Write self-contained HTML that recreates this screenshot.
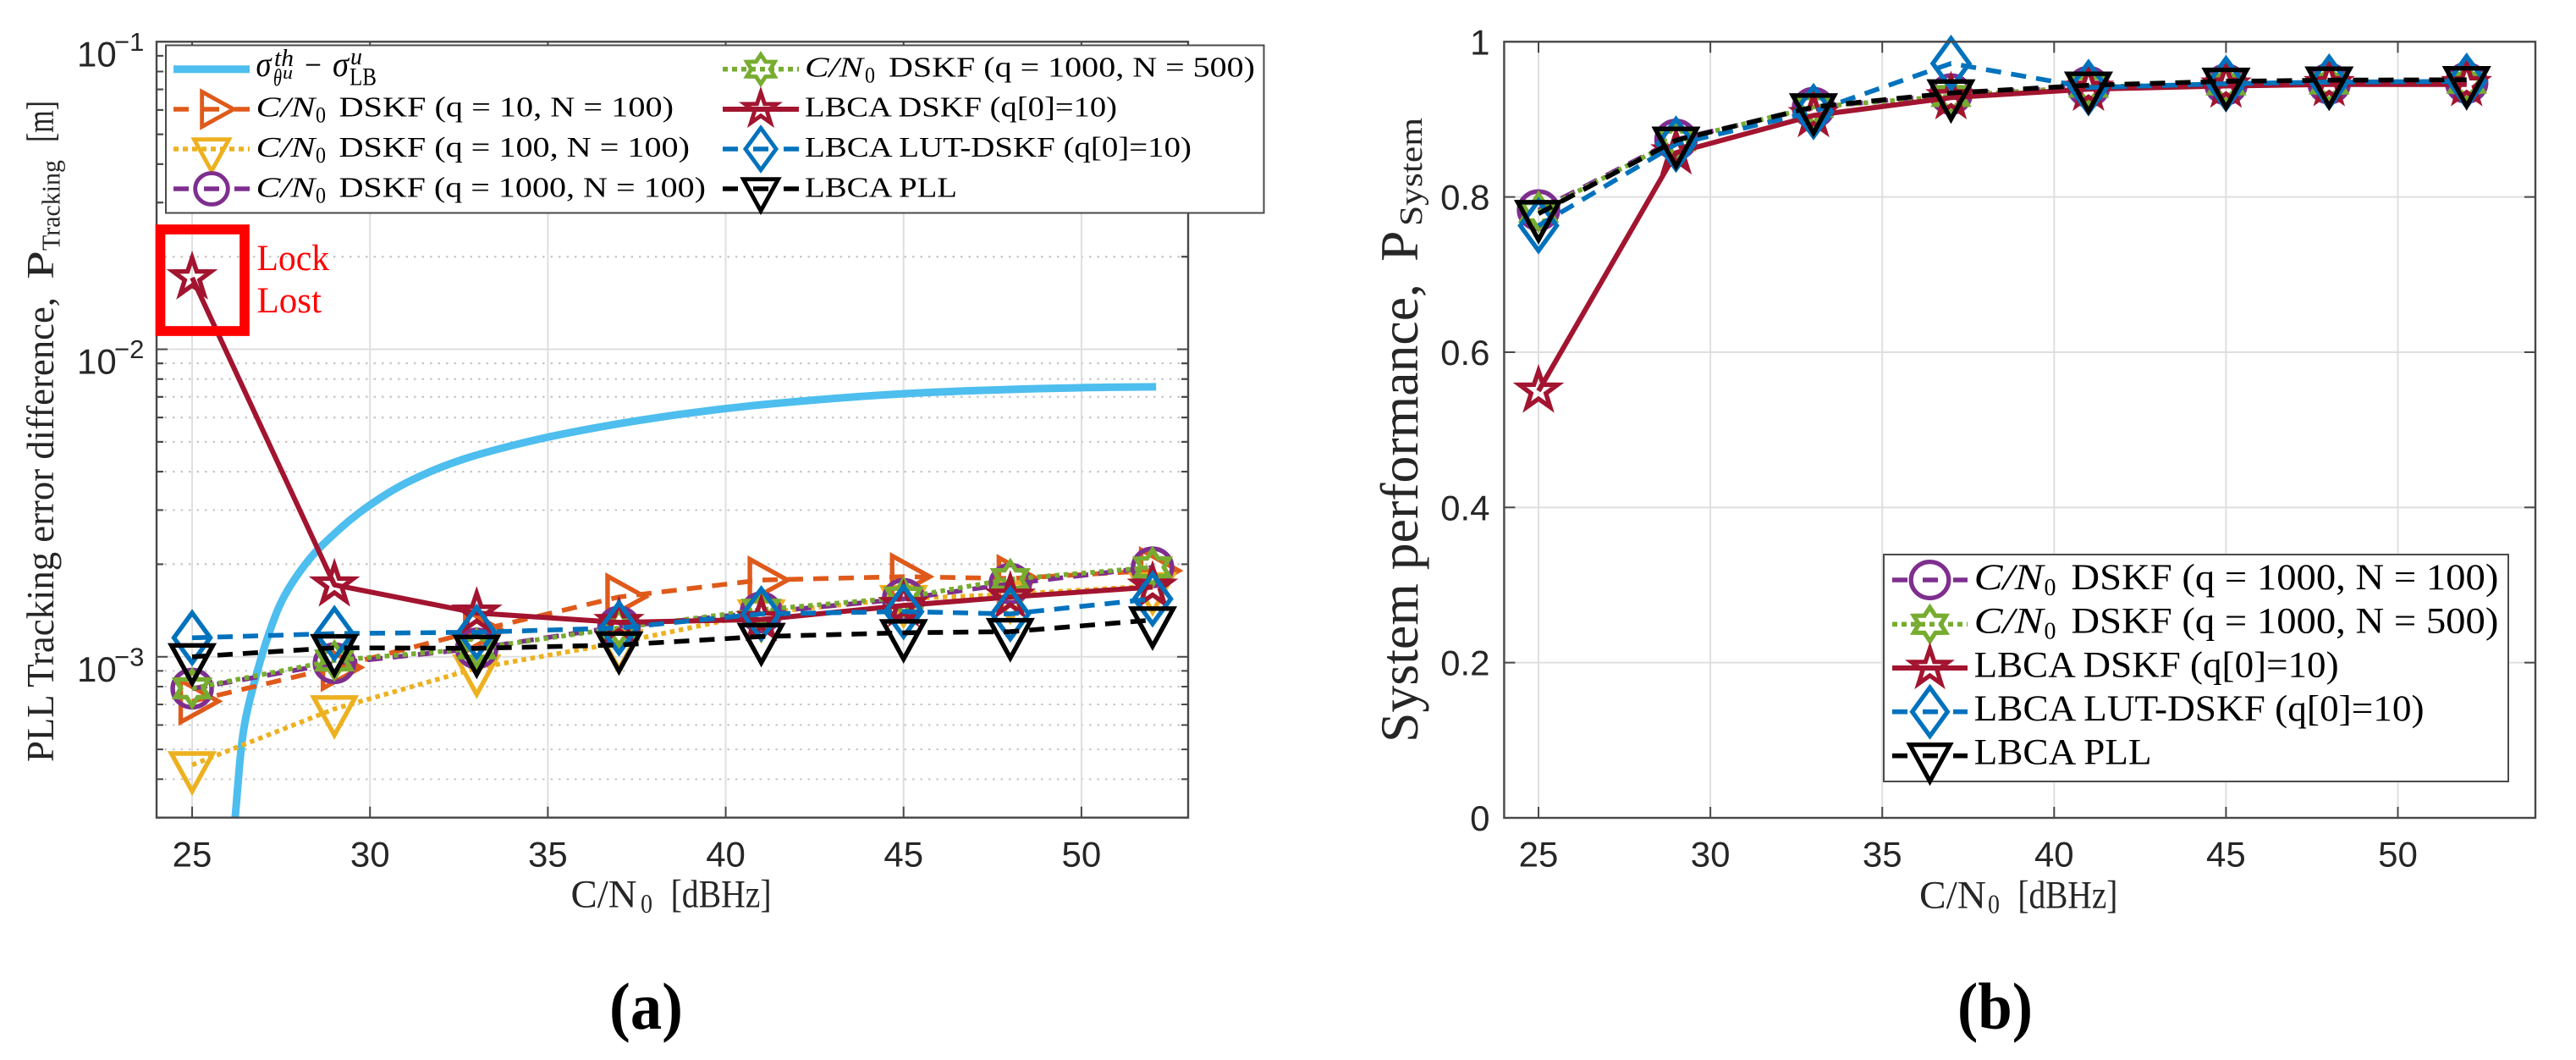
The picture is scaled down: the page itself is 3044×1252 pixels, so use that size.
<!DOCTYPE html>
<html lang="en">
<head>
<meta charset="utf-8">
<title>PLL tracking error difference and system performance vs C/N0</title>
<style>
html,body{margin:0;padding:0;background:#fff;width:3044px;height:1252px;overflow:hidden}
svg{display:block}
text{font-family:"Liberation Serif",serif;fill:#000}
.tick{font-family:"Liberation Sans",sans-serif;font-size:42px;fill:#262626}
.sup{font-family:"Liberation Sans",sans-serif;font-size:31px;fill:#262626}
.lab{fill:#262626}
</style>
</head>
<body>
<svg id="fig" xmlns="http://www.w3.org/2000/svg" width="3044" height="1252" viewBox="0 0 3044 1252">
  <rect x="0" y="0" width="3044" height="1252" fill="#fff"/>
  <g id="panelA"></g>
  <g id="panelB"></g>

  <g>
    <rect x="196" y="53.5" width="1297.5" height="198" fill="#fff" stroke="#4a4a4a" stroke-width="2"/>
  </g>
  <g id="legendA"></g>
  <g font-size="34">
    <g>
      <text x="302.5" y="90" font-size="42" font-style="italic" textLength="18" lengthAdjust="spacingAndGlyphs">σ</text>
      <text x="324" y="78" font-size="28" font-style="italic" textLength="23" lengthAdjust="spacingAndGlyphs">th</text>
      <text x="323" y="101" font-size="28" font-style="italic" textLength="10" lengthAdjust="spacingAndGlyphs">θ</text>
      <text x="334" y="93" font-size="22" font-style="italic" textLength="12" lengthAdjust="spacingAndGlyphs">u</text>
      <text x="360" y="90" font-size="40" textLength="20" lengthAdjust="spacingAndGlyphs">−</text>
      <text x="393" y="90" font-size="42" font-style="italic" textLength="19" lengthAdjust="spacingAndGlyphs">σ</text>
      <text x="414" y="76" font-size="28" font-style="italic" textLength="14" lengthAdjust="spacingAndGlyphs">u</text>
      <text x="413" y="100.7" font-size="30" textLength="32" lengthAdjust="spacingAndGlyphs">LB</text>
    </g>
    <g>
      <text x="302.5" y="137.3" font-style="italic" textLength="70" lengthAdjust="spacingAndGlyphs">C/N</text>
      <text x="373" y="144.3" font-size="26" textLength="12" lengthAdjust="spacingAndGlyphs">0</text>
      <text x="400.5" y="137.3" textLength="395.5" lengthAdjust="spacingAndGlyphs">DSKF (q = 10, N = 100)</text>
    </g>
    <g>
      <text x="302.5" y="185" font-style="italic" textLength="70" lengthAdjust="spacingAndGlyphs">C/N</text>
      <text x="373" y="192" font-size="26" textLength="12" lengthAdjust="spacingAndGlyphs">0</text>
      <text x="400.5" y="185" textLength="414.5" lengthAdjust="spacingAndGlyphs">DSKF (q = 100, N = 100)</text>
    </g>
    <g>
      <text x="302.5" y="232.3" font-style="italic" textLength="70" lengthAdjust="spacingAndGlyphs">C/N</text>
      <text x="373" y="239.3" font-size="26" textLength="12" lengthAdjust="spacingAndGlyphs">0</text>
      <text x="400.5" y="232.3" textLength="433.5" lengthAdjust="spacingAndGlyphs">DSKF (q = 1000, N = 100)</text>
    </g>
    <g>
      <text x="951" y="90.7" font-style="italic" textLength="69" lengthAdjust="spacingAndGlyphs">C/N</text>
      <text x="1022" y="97.7" font-size="26" textLength="12" lengthAdjust="spacingAndGlyphs">0</text>
      <text x="1050" y="90.7" textLength="433" lengthAdjust="spacingAndGlyphs">DSKF (q = 1000, N = 500)</text>
    </g>
    <text x="951" y="137.3" textLength="369" lengthAdjust="spacingAndGlyphs">LBCA DSKF (q[0]=10)</text>
    <text x="951" y="185" textLength="457" lengthAdjust="spacingAndGlyphs">LBCA LUT-DSKF (q[0]=10)</text>
    <text x="951" y="232.3" textLength="180" lengthAdjust="spacingAndGlyphs">LBCA PLL</text>
  </g>

  <g>
    <rect x="189.5" y="271" width="99.5" height="120" fill="none" stroke="#ff0000" stroke-width="11.7"/>
    <text x="303.5" y="319" font-size="43" style="fill:#ff0000" textLength="85.5" lengthAdjust="spacingAndGlyphs">Lock</text>
    <text x="303.5" y="369" font-size="43" style="fill:#ff0000" textLength="76.5" lengthAdjust="spacingAndGlyphs">Lost</text>
  </g>

  <g class="lab">
    <text class="lab" transform="translate(63,900) rotate(-90)" font-size="46" textLength="549" lengthAdjust="spacingAndGlyphs">PLL Tracking error difference,</text>
    <text class="lab" transform="translate(63,330) rotate(-90)" font-size="46" textLength="34" lengthAdjust="spacingAndGlyphs">P</text>
    <text class="lab" transform="translate(70.7,296) rotate(-90)" font-size="31" textLength="107" lengthAdjust="spacingAndGlyphs">Tracking</text>
    <text class="lab" transform="translate(63,168) rotate(-90)" font-size="46" textLength="49" lengthAdjust="spacingAndGlyphs">[m]</text>
  </g>
  <g>
    <text class="lab" x="674.5" y="1071.7" font-size="47" textLength="78" lengthAdjust="spacingAndGlyphs">C/N</text>
    <text class="lab" x="757" y="1078" font-size="32" textLength="14" lengthAdjust="spacingAndGlyphs">0</text>
    <text class="lab" x="792.6" y="1071.7" font-size="47" textLength="119" lengthAdjust="spacingAndGlyphs">[dBHz]</text>
  </g>
  <text x="720" y="1215" font-size="78" font-weight="bold" textLength="87" lengthAdjust="spacingAndGlyphs">(a)</text>

  <g>
    <rect x="2226" y="655" width="738" height="268" fill="#fff" stroke="#4a4a4a" stroke-width="2"/>
  </g>
  <g id="legendB"></g>
  <g font-size="43">
    <g>
      <text x="2332.6" y="696" font-style="italic" textLength="82" lengthAdjust="spacingAndGlyphs">C/N</text>
      <text x="2415.5" y="703" font-size="28" textLength="14" lengthAdjust="spacingAndGlyphs">0</text>
      <text x="2447.4" y="696" textLength="505" lengthAdjust="spacingAndGlyphs">DSKF (q = 1000, N = 100)</text>
    </g>
    <g>
      <text x="2332.6" y="747.3" font-style="italic" textLength="82" lengthAdjust="spacingAndGlyphs">C/N</text>
      <text x="2415.5" y="754.3" font-size="28" textLength="14" lengthAdjust="spacingAndGlyphs">0</text>
      <text x="2447.4" y="747.3" textLength="505" lengthAdjust="spacingAndGlyphs">DSKF (q = 1000, N = 500)</text>
    </g>
    <text x="2332.6" y="799.3" textLength="431" lengthAdjust="spacingAndGlyphs">LBCA DSKF (q[0]=10)</text>
    <text x="2332.6" y="851" textLength="532" lengthAdjust="spacingAndGlyphs">LBCA LUT-DSKF (q[0]=10)</text>
    <text x="2332.6" y="902.7" textLength="210" lengthAdjust="spacingAndGlyphs">LBCA PLL</text>
  </g>

  <g>
    <text class="lab" transform="translate(1675,877) rotate(-90)" font-size="63" textLength="542" lengthAdjust="spacingAndGlyphs">System performance,</text>
    <text class="lab" transform="translate(1675,309) rotate(-90)" font-size="63" textLength="36.5" lengthAdjust="spacingAndGlyphs">P</text>
    <text class="lab" transform="translate(1680,267) rotate(-90)" font-size="38" textLength="128" lengthAdjust="spacingAndGlyphs">System</text>
  </g>
  <g>
    <text class="lab" x="2268" y="1072.3" font-size="47" textLength="79" lengthAdjust="spacingAndGlyphs">C/N</text>
    <text class="lab" x="2349" y="1078.5" font-size="32" textLength="14" lengthAdjust="spacingAndGlyphs">0</text>
    <text class="lab" x="2384.4" y="1072.3" font-size="47" textLength="118" lengthAdjust="spacingAndGlyphs">[dBHz]</text>
  </g>
  <text x="2313" y="1215" font-size="78" font-weight="bold" textLength="89" lengthAdjust="spacingAndGlyphs">(b)</text>
</svg>

<script>
// ---- shared categories ----
const cn0 = [25, 29, 33, 37, 41, 45, 48, 52];
const xTicks = [25, 30, 35, 40, 45, 50];

// ---- panel (a) tracking error difference [m] ----
const theoryX = [26.21, 26.28, 26.36, 26.45, 26.57, 26.74, 26.93, 27.14, 27.47, 27.93, 28.43, 28.93, 29.43, 29.97, 30.66, 31.42, 32.21, 33.16, 35.05, 37.46, 40.04, 42.63, 45.09, 47.79, 50.13, 52.1];
const theoryY = [3.0e-4, 3.76e-4, 4.845e-4, 5.86e-4, 6.87e-4, 8.2e-4, 9.85e-4, 1.177e-3, 1.498e-3, 1.834e-3, 2.177e-3, 2.471e-3, 2.787e-3, 3.105e-3, 3.501e-3, 3.883e-3, 4.235e-3, 4.6e-3, 5.22e-3, 5.865e-3, 6.45e-3, 6.87e-3, 7.2e-3, 7.4e-3, 7.51e-3, 7.55e-3];
const aQ10N100 = [7.165e-4, 9.23e-4, 1.215e-3, 1.565e-3, 1.777e-3, 1.822e-3, 1.797e-3, 1.905e-3];
const aQ100N100 = [4.45e-4, 6.77e-4, 9.19e-4, 1.112e-3, 1.388e-3, 1.546e-3, 1.596e-3, 1.7e-3];
const aQ1000N100 = [7.88e-4, 9.53e-4, 1.065e-3, 1.254e-3, 1.394e-3, 1.543e-3, 1.729e-3, 1.954e-3];
const aQ1000N500 = [7.9e-4, 9.73e-4, 1.065e-3, 1.241e-3, 1.423e-3, 1.559e-3, 1.789e-3, 1.954e-3];
const aLbcaDskf = [1.709e-2, 1.714e-3, 1.388e-3, 1.294e-3, 1.322e-3, 1.469e-3, 1.565e-3, 1.686e-3];
const aLbcaLut = [1.153e-3, 1.19e-3, 1.202e-3, 1.241e-3, 1.379e-3, 1.403e-3, 1.379e-3, 1.543e-3];
const aLbcaPll = [1.0e-3, 1.07e-3, 1.0654e-3, 1.0927e-3, 1.164e-3, 1.197e-3, 1.207e-3, 1.317e-3];
const aYDecades = [-1, -2, -3];
const aYMinorMult = [2, 3, 4, 5, 6, 7, 8, 9];

// ---- panel (b) system performance ----
const bQ1000N100 = [0.783, 0.874, 0.915, 0.9325, 0.942, 0.945, 0.946, 0.947];
const bQ1000N500 = [0.781, 0.873, 0.916, 0.93, 0.942, 0.945, 0.946, 0.947];
const bLbcaDskf = [0.55, 0.857, 0.905, 0.928, 0.939, 0.943, 0.945, 0.945];
const bLbcaLut = [0.763, 0.868, 0.91, 0.972, 0.941, 0.946, 0.948, 0.949];
const bLbcaPll = [0.7785, 0.873, 0.916, 0.934, 0.944, 0.949, 0.9505, 0.951];
const bYTicks = [0, 0.2, 0.4, 0.6, 0.8, 1];
const bYLabels = ['0', '0.2', '0.4', '0.6', '0.8', '1'];

const NS = 'http://www.w3.org/2000/svg';
const COL = {cyan:'#4DBEEE', orange:'#DF5A1A', yellow:'#EDB120', purple:'#7E2F8E', green:'#77AC30', red:'#A2142F', blue:'#0072BD', black:'#000000'};
const AXIS = '#484848';

function mk(parent, tag, attrs, text) {
  const el = document.createElementNS(NS, tag);
  for (const k in attrs) el.setAttribute(k, attrs[k]);
  if (text !== undefined) el.textContent = text;
  parent.appendChild(el);
  return el;
}

// axis functions
const A = {l:185, r:1404, t:49.3, b:965.7, xmin:24, xmax:53, ymin:3e-4, ymax:0.1};
const B = {l:1777.4, r:2996, t:49.3, b:966, xmin:24, xmax:54, ymin:0, ymax:1};
const xA = v => A.l + (v - A.xmin) / (A.xmax - A.xmin) * (A.r - A.l);
const yA = v => A.t + (Math.log10(A.ymax) - Math.log10(v)) / (Math.log10(A.ymax) - Math.log10(A.ymin)) * (A.b - A.t);
const xB = v => B.l + (v - B.xmin) / (B.xmax - B.xmin) * (B.r - B.l);
const yB = v => B.t + (B.ymax - v) / (B.ymax - B.ymin) * (B.b - B.t);

function poly(pts) { return 'M' + pts.map(p => p[0].toFixed(2) + ' ' + p[1].toFixed(2)).join('L') + 'Z'; }

function markerEl(g, type, cx, cy, k, color) {
  let el;
  const base = {fill:'none', stroke:color, 'stroke-width':5.4 * Math.max(k, .9), 'stroke-miterlimit':12, 'stroke-linejoin':'miter'};
  if (type === 'circle') {
    el = mk(g, 'ellipse', Object.assign({cx:cx, cy:cy, rx:23 * k, ry:22 * k}, base));
  } else {
    let pts = [];
    if (type === 'tridown') pts = [[-24.5,-13.5],[24.5,-13.5],[0,31]];
    if (type === 'triright') pts = [[-13.5,-24.5],[-13.5,24.5],[31,0]];
    if (type === 'diamond') pts = [[0,-29.5],[21.5,0],[0,29.5],[-21.5,0]];
    if (type === 'star') for (let i = 0; i < 10; i++) { const r = i % 2 ? 9.2 : 23.5, a = -Math.PI / 2 + i * Math.PI / 5; pts.push([r * Math.cos(a), r * Math.sin(a)]); }
    if (type === 'hexagram') for (let i = 0; i < 12; i++) { const r = i % 2 ? 12.1 : 20.5, a = -Math.PI / 2 + i * Math.PI / 6; pts.push([1.1 * r * Math.cos(a), r * Math.sin(a)]); }
    el = mk(g, 'path', Object.assign({d:poly(pts.map(p => [cx + p[0] * k, cy + p[1] * k]))}, base));
  }
  return el;
}

const DASH = '18 12', DOT = '5.5 5', LDASH = '18 18', LDOT = '6 5';

function linePath(pts, smooth) {
  if (!smooth) return 'M' + pts.map(p => p[0].toFixed(2) + ' ' + p[1].toFixed(2)).join('L');
  let d = 'M' + pts[0][0].toFixed(2) + ' ' + pts[0][1].toFixed(2);
  for (let i = 1; i < pts.length - 1; i++) {
    const mx = (pts[i][0] + pts[i + 1][0]) / 2, my = (pts[i][1] + pts[i + 1][1]) / 2;
    d += 'Q' + pts[i][0].toFixed(2) + ' ' + pts[i][1].toFixed(2) + ' ' + mx.toFixed(2) + ' ' + my.toFixed(2);
  }
  const e = pts[pts.length - 1];
  return d + 'L' + e[0].toFixed(2) + ' ' + e[1].toFixed(2);
}

function drawSeries(root, key, xs, ys, fx, fy, color, dash, marker, width, smooth) {
  const g = mk(root, 'g', {});
  
  
  const d = linePath(xs.map((x, i) => [fx(x), fy(ys[i])]), smooth);
  const line = mk(g, 'path', {d:d, fill:'none', stroke:color, 'stroke-width':width, 'stroke-dasharray':dash || 'none', 'stroke-linejoin':'round'});
  
  
  if (marker) xs.forEach((x, i) => {
    const m = markerEl(g, marker, fx(x), fy(ys[i]), 1, color);
    
    
  });
}

function frame(root, P, name) {
  const g = mk(root, 'g', {fill:'none', stroke:AXIS, 'stroke-width':2.4});
  
  
  mk(g, 'rect', {x:P.l, y:P.t, width:P.r - P.l, height:P.b - P.t});
  return g;
}

function xAxis(root, P, fx, name) {
  const grid = mk(root, 'g', {stroke:'#dfdfdf', 'stroke-width':2});
  
  
  xTicks.forEach(t => mk(grid, 'line', {x1:fx(t), x2:fx(t), y1:P.t, y2:P.b}));
  return grid;
}

function xTickMarks(root, P, fx, name) {
  const g = mk(root, 'g', {stroke:AXIS, 'stroke-width':2});
  
  
  xTicks.forEach(t => {
    mk(g, 'line', {x1:fx(t), x2:fx(t), y1:P.b, y2:P.b - 13});
    mk(g, 'line', {x1:fx(t), x2:fx(t), y1:P.t, y2:P.t + 13});
    const lb = mk(root, 'text', {x:fx(t), y:1023.5, 'text-anchor':'middle', class:'tick'}, String(t));
    
    
  });
}

// ---------- panel A ----------
(function () {
  const root = document.getElementById('panelA');
  const minor = mk(root, 'g', {stroke:'#c6c6c6', 'stroke-width':2, 'stroke-dasharray':'2.5 7'});
  
  
  const major = mk(root, 'g', {stroke:'#dfdfdf', 'stroke-width':2});
  
  
  const tg = mk(root, 'g', {stroke:AXIS, 'stroke-width':2});
  
  
  aYDecades.forEach(e => {
    const v = Math.pow(10, e), y = yA(v);
    mk(major, 'line', {x1:A.l, x2:A.r, y1:y, y2:y});
    mk(tg, 'line', {x1:A.l, x2:A.l + 13, y1:y, y2:y});
    mk(tg, 'line', {x1:A.r, x2:A.r - 13, y1:y, y2:y});
    const t1 = mk(root, 'text', {x:91, y:y + 29, class:'tick'}, '10');
    
    
    const t2 = mk(root, 'text', {x:135, y:y + 10.5, class:'sup'}, '\u2212' + Math.abs(e));
    
    
    aYMinorMult.forEach(m => {
      [m * v, m * v / 10].forEach(w => {
        if (w > A.ymin * 0.99 && w < A.ymax) {
          const yy = yA(w);
          mk(minor, 'line', {x1:A.l, x2:A.r, y1:yy, y2:yy});
          mk(tg, 'line', {x1:A.l, x2:A.l + 8, y1:yy, y2:yy});
          mk(tg, 'line', {x1:A.r, x2:A.r - 8, y1:yy, y2:yy});
        }
      });
    });
  });
  xAxis(root, A, xA, 'panel-a');
  drawSeries(root, 'theory', theoryX, theoryY, xA, yA, COL.cyan, null, null, 9, true);
  drawSeries(root, 'q10-n100', cn0, aQ10N100, xA, yA, COL.orange, DASH, 'triright', 5.6);
  drawSeries(root, 'q100-n100', cn0, aQ100N100, xA, yA, COL.yellow, DOT, 'tridown', 5.6);
  drawSeries(root, 'q1000-n100', cn0, aQ1000N100, xA, yA, COL.purple, DASH, 'circle', 5.6);
  drawSeries(root, 'q1000-n500', cn0, aQ1000N500, xA, yA, COL.green, DOT, 'hexagram', 5.6);
  drawSeries(root, 'lbca-dskf', cn0, aLbcaDskf, xA, yA, COL.red, null, 'star', 6);
  drawSeries(root, 'lbca-lut-dskf', cn0, aLbcaLut, xA, yA, COL.blue, DASH, 'diamond', 5.6);
  drawSeries(root, 'lbca-pll', cn0, aLbcaPll, xA, yA, COL.black, DASH, 'tridown', 5.6);
  frame(root, A, 'panel-a');
  xTickMarks(root, A, xA, 'panel-a');
})();

// ---------- panel B ----------
(function () {
  const root = document.getElementById('panelB');
  const major = mk(root, 'g', {stroke:'#dfdfdf', 'stroke-width':2});
  
  
  const tg = mk(root, 'g', {stroke:AXIS, 'stroke-width':2});
  
  
  bYTicks.forEach((t, i) => {
    const y = yB(t);
    mk(major, 'line', {x1:B.l, x2:B.r, y1:y, y2:y});
    mk(tg, 'line', {x1:B.l, x2:B.l + 13, y1:y, y2:y});
    mk(tg, 'line', {x1:B.r, x2:B.r - 13, y1:y, y2:y});
    const lb = mk(root, 'text', {x:1760.5, y:y + 15, 'text-anchor':'end', class:'tick'}, bYLabels[i]);
    
    
  });
  xAxis(root, B, xB, 'panel-b');
  drawSeries(root, 'q1000-n100', cn0, bQ1000N100, xB, yB, COL.purple, DASH, 'circle', 5.6);
  drawSeries(root, 'q1000-n500', cn0, bQ1000N500, xB, yB, COL.green, DOT, 'hexagram', 5.6);
  drawSeries(root, 'lbca-dskf', cn0, bLbcaDskf, xB, yB, COL.red, null, 'star', 6);
  drawSeries(root, 'lbca-lut-dskf', cn0, bLbcaLut, xB, yB, COL.blue, DASH, 'diamond', 5.6);
  drawSeries(root, 'lbca-pll', cn0, bLbcaPll, xB, yB, COL.black, DASH, 'tridown', 5.6);
  frame(root, B, 'panel-b');
  xTickMarks(root, B, xB, 'panel-b');
})();

// ---------- legend swatches ----------
function swatch(root, key, x1, x2, y, color, dash, marker, k, width) {
  const g = mk(root, 'g', {});
  
  
  mk(g, 'line', {x1:x1, x2:x2, y1:y, y2:y, stroke:color, 'stroke-width':width, 'stroke-dasharray':dash || 'none'});
  if (marker) markerEl(g, marker, (x1 + x2) / 2, y, k, color);
}
(function () {
  const L = document.getElementById('legendA');
  const k = 0.84;
  swatch(L, 'theory', 205, 295, 81.7, COL.cyan, null, null, k, 9);
  swatch(L, 'q10-n100', 205, 295, 129, COL.orange, LDASH, 'triright', k, 5.6);
  swatch(L, 'q100-n100', 205, 295, 176, COL.yellow, LDOT, 'tridown', k, 5.6);
  swatch(L, 'q1000-n100', 205, 295, 223, COL.purple, LDASH, 'circle', k, 5.6);
  swatch(L, 'q1000-n500', 854, 944, 81.7, COL.green, LDOT, 'hexagram', k, 5.6);
  swatch(L, 'lbca-dskf', 854, 944, 129, COL.red, null, 'star', k, 6);
  swatch(L, 'lbca-lut-dskf', 854, 944, 176, COL.blue, LDASH, 'diamond', k, 5.6);
  swatch(L, 'lbca-pll', 854, 944, 223, COL.black, LDASH, 'tridown', k, 5.6);
  const R = document.getElementById('legendB');
  const q = 0.97;
  swatch(R, 'q1000-n100', 2236, 2325, 685, COL.purple, LDASH, 'circle', q, 5.6);
  swatch(R, 'q1000-n500', 2236, 2325, 737.3, COL.green, LDOT, 'hexagram', q, 5.6);
  swatch(R, 'lbca-dskf', 2236, 2325, 789, COL.red, null, 'star', q, 6);
  swatch(R, 'lbca-lut-dskf', 2236, 2325, 840.7, COL.blue, LDASH, 'diamond', q, 5.6);
  swatch(R, 'lbca-pll', 2236, 2325, 892.7, COL.black, LDASH, 'tridown', q, 5.6);
})();
</script>
</body>
</html>
